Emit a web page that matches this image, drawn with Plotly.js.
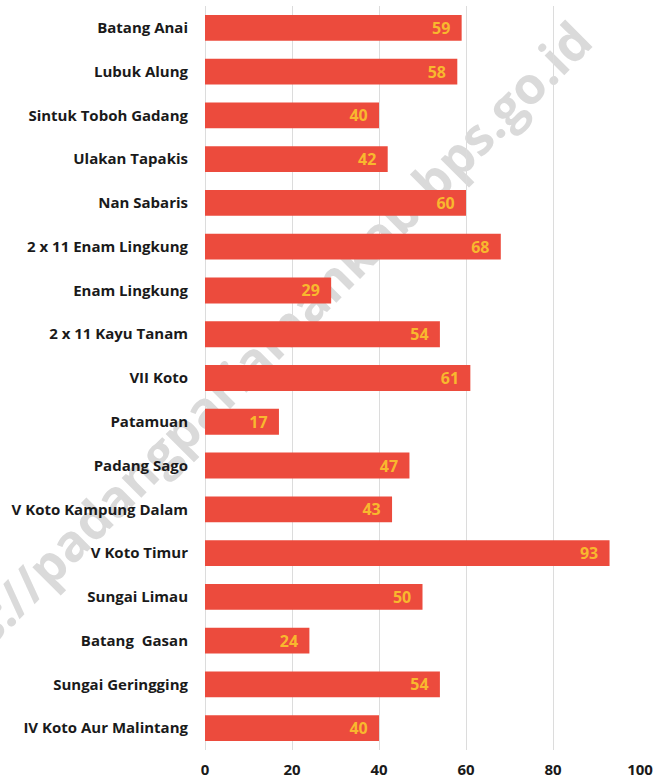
<!DOCTYPE html>
<html>
<head>
<meta charset="utf-8">
<script src="https://cdn.plot.ly/plotly-3.0.1.min.js"></script>
<style>html,body{margin:0;padding:0;background:#fff;}#chart{width:655px;height:781px;}</style>
</head>
<body>
<div id="chart"></div>
<script>
const kecamatan = ["Batang Anai","Lubuk Alung","Sintuk Toboh Gadang","Ulakan Tapakis","Nan Sabaris","2 x 11 Enam Lingkung","Enam Lingkung","2 x 11 Kayu Tanam","VII Koto","Patamuan","Padang Sago","V Koto Kampung Dalam","V Koto Timur","Sungai Limau","Batang  Gasan","Sungai Geringging","IV Koto Aur Malintang"];
const nilai = [59,58,40,42,60,68,29,54,61,17,47,43,93,50,24,54,40];
const xTicks = [0,20,40,60,80,100];
const watermark = "https://padangpariamankab.bps.go.id";

const FONT = '"Open Sans", "DejaVu Sans", sans-serif';

const trace = {
  type: 'bar',
  orientation: 'h',
  y: kecamatan,
  x: nilai,
  width: 0.59,
  marker: {color: '#ec4b3d'},
  text: nilai.map(v => v + '\u00a0\u00a0'),
  textposition: 'inside',
  insidetextanchor: 'end',
  constraintext: 'none',
  textangle: 0,
  textfont: {family: FONT, size: 16, color: '#f8b82e', weight: 'bold'},
  hoverinfo: 'none',
  cliponaxis: false
};

const layout = {
  width: 655, height: 781,
  margin: {l: 205, r: 15, t: 6, b: 31},
  paper_bgcolor: '#ffffff',
  plot_bgcolor: 'rgba(0,0,0,0)',
  showlegend: false,
  xaxis: {
    range: [0, 100],
    tickvals: xTicks,
    ticktext: xTicks.map(String),
    showgrid: true, gridcolor: '#dcdcdc', gridwidth: 1,
    zeroline: true, zerolinecolor: '#dcdcdc', zerolinewidth: 1,
    showline: false,
    ticks: 'outside', ticklen: 6, tickcolor: 'rgba(0,0,0,0)',
    tickfont: {family: FONT, size: 15, color: '#1a1a1a', weight: 'bold'},
    fixedrange: true
  },
  yaxis: {
    autorange: 'reversed',
    showgrid: false, zeroline: false, showline: false,
    ticks: 'outside', ticklen: 13, tickcolor: 'rgba(0,0,0,0)',
    tickfont: {family: FONT, size: 15, color: '#1a1a1a', weight: 'bold'},
    fixedrange: true
  },
  shapes: [{
    type: 'line', xref: 'paper', yref: 'paper', layer: 'below',
    x0: -0.541, y0: 0.067, x1: 0.839, y1: 0.873,
    line: {width: 0, color: 'rgba(0,0,0,0)'},
    label: {
      text: watermark, textangle: 'auto', textposition: 'middle',
      font: {family: FONT, size: 51, color: '#dadada', weight: 'bold'}
    }
  }]
};

Plotly.newPlot('chart', [trace], layout, {displayModeBar: false, staticPlot: true});
</script>
</body>
</html>
